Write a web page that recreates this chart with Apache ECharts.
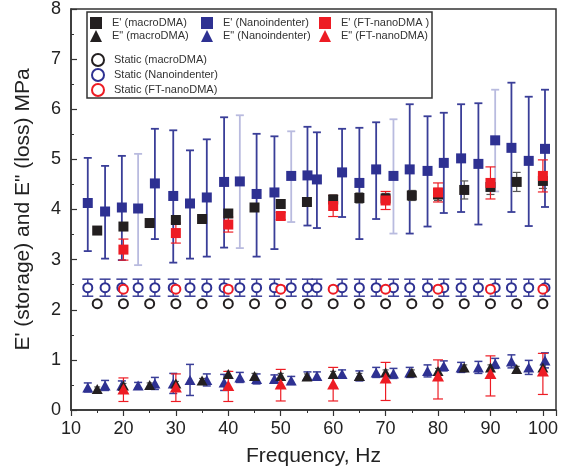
<!DOCTYPE html>
<html><head><meta charset="utf-8">
<script src="https://cdn.jsdelivr.net/npm/echarts@6/dist/echarts.min.js"></script>
<style>html,body{margin:0;padding:0;background:#fff}#c{width:561px;height:472px}</style>
</head><body><div id="c"></div>
<script>
// ---------- data ----------
const macroFreq = [15,20,25,30,35,40,45,50,55,60,65,70,75,80,85,90,95,100];
const macroStorage = [3.58,3.66,3.73,3.79,3.81,3.92,4.04,4.11,4.15,4.20,4.23,4.22,4.28,4.30,4.39,4.45,4.55,4.57];
const macroStorageErr = [0.05,0.05,0.05,0.06,0.06,0.07,0.07,0.08,0.08,0.09,0.10,0.10,0.10,0.12,0.18,0.15,0.19,0.15];
const macroLoss = [0.42,0.49,0.50,0.53,0.59,0.72,0.68,0.68,0.67,0.72,0.68,0.75,0.75,0.78,0.85,0.85,0.82,0.85];
const macroLossErr = [0.04,0.04,0.04,0.04,0.04,0.05,0.05,0.05,0.05,0.05,0.05,0.05,0.05,0.05,0.05,0.05,0.05,0.05];
const macroStatic = [2.12,2.12,2.12,2.12,2.12,2.12,2.12,2.12,2.12,2.12,2.12,2.12,2.12,2.12,2.12,2.12,2.12,2.12];
const macroStaticErr = [0.04,0.04,0.04,0.04,0.04,0.04,0.04,0.04,0.04,0.04,0.04,0.04,0.04,0.04,0.04,0.04,0.04,0.04];

const nanoFreq = [13.2,16.5,19.7,22.8,26.0,29.5,32.7,35.9,39.2,42.2,45.4,48.8,52.0,55.1,56.9,61.7,65.0,68.2,71.5,74.6,78.0,81.1,84.4,87.7,90.9,94.0,97.3,100.4];
const nanoStorage = [4.13,3.96,4.04,4.02,4.52,4.27,4.12,4.24,4.55,4.56,4.31,4.34,4.67,4.68,4.60,4.74,4.53,4.80,4.67,4.80,4.77,4.93,5.02,4.91,5.38,5.23,4.97,5.21];
const nanoStorageHigh = [5.03,4.87,5.07,5.11,5.61,5.58,5.18,5.40,5.84,5.88,5.51,5.46,5.56,5.65,5.54,5.61,5.63,5.74,5.80,6.10,5.86,5.93,6.10,6.12,6.39,6.53,6.25,6.39];
const nanoStorageLow = [3.17,3.02,2.99,2.89,3.41,2.94,3.02,3.06,3.24,3.23,3.06,3.21,3.75,3.68,3.63,3.85,3.41,3.81,3.52,3.52,3.66,3.93,3.95,3.70,4.36,3.95,3.67,4.05];
const nanoLoss = [0.45,0.49,0.49,0.49,0.53,0.53,0.60,0.60,0.55,0.65,0.62,0.62,0.59,0.68,0.68,0.72,0.68,0.75,0.73,0.75,0.78,0.88,0.85,0.85,0.93,0.97,0.85,0.99];
const nanoLossErr = [0.09,0.10,0.09,0.06,0.12,0.20,0.31,0.12,0.16,0.10,0.10,0.08,0.08,0.08,0.08,0.08,0.10,0.10,0.10,0.10,0.12,0.10,0.10,0.12,0.10,0.13,0.14,0.15];
const nanoStatic = [2.44,2.44,2.44,2.44,2.44,2.44,2.44,2.44,2.44,2.44,2.44,2.44,2.44,2.44,2.44,2.44,2.44,2.44,2.44,2.44,2.44,2.44,2.44,2.44,2.44,2.44,2.44,2.44];
const nanoStaticErr = [0.17,0.17,0.17,0.17,0.17,0.17,0.17,0.17,0.17,0.17,0.17,0.17,0.17,0.17,0.17,0.17,0.17,0.17,0.17,0.17,0.17,0.17,0.17,0.17,0.17,0.17,0.17,0.17];

const ftFreq = [20,30,40,50,60,70,80,90,100];
const ftStorage = [3.20,3.53,3.70,3.87,4.07,4.18,4.34,4.53,4.67];
const ftStorageErr = [0.21,0.20,0.15,0.07,0.21,0.18,0.19,0.32,0.32];
const ftLoss = [0.42,0.46,0.49,0.52,0.52,0.64,0.68,0.73,0.78];
const ftLossHigh = [0.64,0.72,0.77,0.81,0.85,0.95,1.00,1.08,1.13];
const ftLossLow = [0.17,0.17,0.17,0.18,0.18,0.19,0.22,0.28,0.31];
const ftStatic = [2.41,2.41,2.41,2.41,2.41,2.41,2.41,2.41,2.41];
const ftStaticErr = [0.06,0.06,0.06,0.06,0.06,0.06,0.06,0.06,0.06];

const xTicks = [10,20,30,40,50,60,70,80,90,100];
const yTicks = [0,1,2,3,4,5,6,7,8];

// ---------- style ----------
const NAVY = '#2e3192', NAVY_BAR = '#3a3e98', NAVY_LIGHT = '#b9bbdf', BLACK = '#231f20', RED = '#ed1c24';
const nanoLightBars = [3, 9, 12, 18, 24];
const FONT = 'Liberation Sans, Arial, Helvetica, sans-serif';

const N = {
  me: "E' (macroDMA)", ml: 'E" (macroDMA)', ms: 'Static (macroDMA)',
  ne: "E' (Nanoindenter)", nl: 'E" (Nanoindenter)', ns: 'Static (Nanoindenter)',
  fe: "E' (FT-nanoDMA )", fl: 'E" (FT-nanoDMA)', fs: 'Static (FT-nanoDMA)'
};

function errBars(freq, low, high, color, width, cap, lightIdx) {
  return {
    type: 'custom', silent: true, clip: true, z: 2,
    data: freq.map((f, i) => [f, low[i], high[i]]),
    renderItem: function (params, api) {
      const x = api.value(0);
      const top = api.coord([x, api.value(2)]);
      const bot = api.coord([x, api.value(1)]);
      const c = (lightIdx && lightIdx.indexOf(params.dataIndex) >= 0) ? NAVY_LIGHT : color;
      const style = { stroke: c, lineWidth: width };
      return { type: 'group', children: [
        { type: 'line', shape: { x1: top[0], y1: top[1], x2: bot[0], y2: bot[1] }, style: style },
        { type: 'line', shape: { x1: top[0] - cap, y1: top[1], x2: top[0] + cap, y2: top[1] }, style: style },
        { type: 'line', shape: { x1: bot[0] - cap, y1: bot[1], x2: bot[0] + cap, y2: bot[1] }, style: style }
      ]};
    }
  };
}
const sym = (v, e) => v.map((x, i) => +(x - e[i]).toFixed(3));
const syp = (v, e) => v.map((x, i) => +(x + e[i]).toFixed(3));
function pts(freq, vals) { return freq.map((f, i) => [f, vals[i]]); }
function scatter(name, freq, vals, symbol, size, color, extra) {
  const s = { type: 'scatter', name: name, data: pts(freq, vals), symbol: symbol, symbolSize: size,
    itemStyle: { color: color, opacity: 1 }, z: 3, emphasis: { disabled: true } };
  return Object.assign(s, extra || {});
}
const hollow = c => ({ itemStyle: { color: c, borderColor: c, borderWidth: 1.2, opacity: 1 } });

const legendBase = {
  orient: 'vertical', itemGap: 1, itemWidth: 12, itemHeight: 12, padding: 0,
  textStyle: { fontSize: 11, color: '#333', fontFamily: FONT, padding: [0, 0, 0, 5] },
  selectedMode: false, z: 6
};

const chart = echarts.init(document.getElementById('c'), null, { renderer: 'canvas' });
chart.setOption({
  animation: false,
  backgroundColor: '#fff',
  textStyle: { fontFamily: FONT },
  grid: { left: 71, top: 8, right: 5, bottom: 59, show: true, borderColor: '#333', borderWidth: 1.5, backgroundColor: 'transparent' },
  graphic: [{ type: 'rect', shape: { x: 87, y: 12, width: 345, height: 86 },
    style: { fill: '#fff', stroke: '#333', lineWidth: 1.5 }, z: 5 }],
  legend: [
    Object.assign({}, legendBase, { left: 90, top: 17, data: [{ name: N.me }, { name: N.ml, itemStyle: {} }] }),
    Object.assign({}, legendBase, { left: 201, top: 17, data: [{ name: N.ne }, { name: N.nl }] }),
    Object.assign({}, legendBase, { left: 319, top: 17, data: [{ name: N.fe }, { name: N.fl }] }),
    Object.assign({}, legendBase, { left: 91, top: 53, data: [{ name: N.ms }, { name: N.ns }, { name: N.fs }] })
  ],
  xAxis: {
    type: 'value', min: 10, max: 102.5, interval: 10,
    axisLine: { show: true, lineStyle: { color: '#333', width: 1.5 } },
    axisTick: { show: true, inside: false, length: 6, lineStyle: { color: '#333', width: 1.2 } },
    minorTick: { show: true, splitNumber: 2, length: 3, lineStyle: { color: '#333', width: 1 } },
    splitLine: { show: false },
    axisLabel: { fontSize: 18, color: '#222', margin: 10, showMaxLabel: false, fontFamily: FONT,
      formatter: v => (xTicks.indexOf(v) >= 0 ? String(v) : '') },
    name: 'Frequency, Hz', nameLocation: 'middle', nameGap: 36,
    nameTextStyle: { fontSize: 21, color: '#222', fontFamily: FONT }
  },
  yAxis: {
    type: 'value', min: 0, max: 8, interval: 1,
    axisLine: { show: true, lineStyle: { color: '#333', width: 1.5 } },
    axisTick: { show: true, inside: true, length: 6, lineStyle: { color: '#333', width: 1.2 } },
    minorTick: { show: true, splitNumber: 2, length: 3, lineStyle: { color: '#333', width: 1 } },
    splitLine: { show: false },
    axisLabel: { fontSize: 18, color: '#222', margin: 10, fontFamily: FONT,
      formatter: v => (yTicks.indexOf(v) >= 0 ? String(v) : '') },
    name: 'E\' (storage) and E" (loss) MPa', nameLocation: 'middle', nameGap: 37,
    nameTextStyle: { fontSize: 21, color: '#222', fontFamily: FONT }
  },
  series: [
    // static
    errBars(nanoFreq, sym(nanoStatic, nanoStaticErr), syp(nanoStatic, nanoStaticErr), NAVY_BAR, 1.5, 5.5),
    scatter(N.ns, nanoFreq, nanoStatic, 'emptyCircle', 9, NAVY, hollow(NAVY)),
    errBars(macroFreq, sym(macroStatic, macroStaticErr), syp(macroStatic, macroStaticErr), '#777', 1.2, 3),
    scatter(N.ms, macroFreq, macroStatic, 'emptyCircle', 9, BLACK, hollow(BLACK)),
    errBars(ftFreq, sym(ftStatic, ftStaticErr), syp(ftStatic, ftStaticErr), RED, 1.2, 4),
    scatter(N.fs, ftFreq, ftStatic, 'emptyCircle', 9, RED, hollow(RED)),
    // storage
    errBars(nanoFreq, nanoStorageLow, nanoStorageHigh, NAVY_BAR, 1.8, 4, nanoLightBars),
    scatter(N.ne, nanoFreq, nanoStorage, 'rect', 10, NAVY),
    errBars(macroFreq, sym(macroStorage, macroStorageErr), syp(macroStorage, macroStorageErr), '#555', 1.2, 4),
    scatter(N.me, macroFreq, macroStorage, 'rect', 10, BLACK),
    errBars(ftFreq, sym(ftStorage, ftStorageErr), syp(ftStorage, ftStorageErr), RED, 1.2, 5),
    scatter(N.fe, ftFreq, ftStorage, 'rect', 10, RED),
    // loss
    errBars(nanoFreq, sym(nanoLoss, nanoLossErr), syp(nanoLoss, nanoLossErr), NAVY_BAR, 1.5, 4),
    scatter(N.nl, nanoFreq, nanoLoss, 'triangle', [11, 10], NAVY),
    errBars(macroFreq, sym(macroLoss, macroLossErr), syp(macroLoss, macroLossErr), '#555', 1.2, 3),
    scatter(N.ml, macroFreq, macroLoss, 'triangle', [11, 10], BLACK),
    errBars(ftFreq, ftLossLow, ftLossHigh, RED, 1.2, 5),
    scatter(N.fl, ftFreq, ftLoss, 'triangle', [12, 11], RED)
  ]
});
</script></body></html>
